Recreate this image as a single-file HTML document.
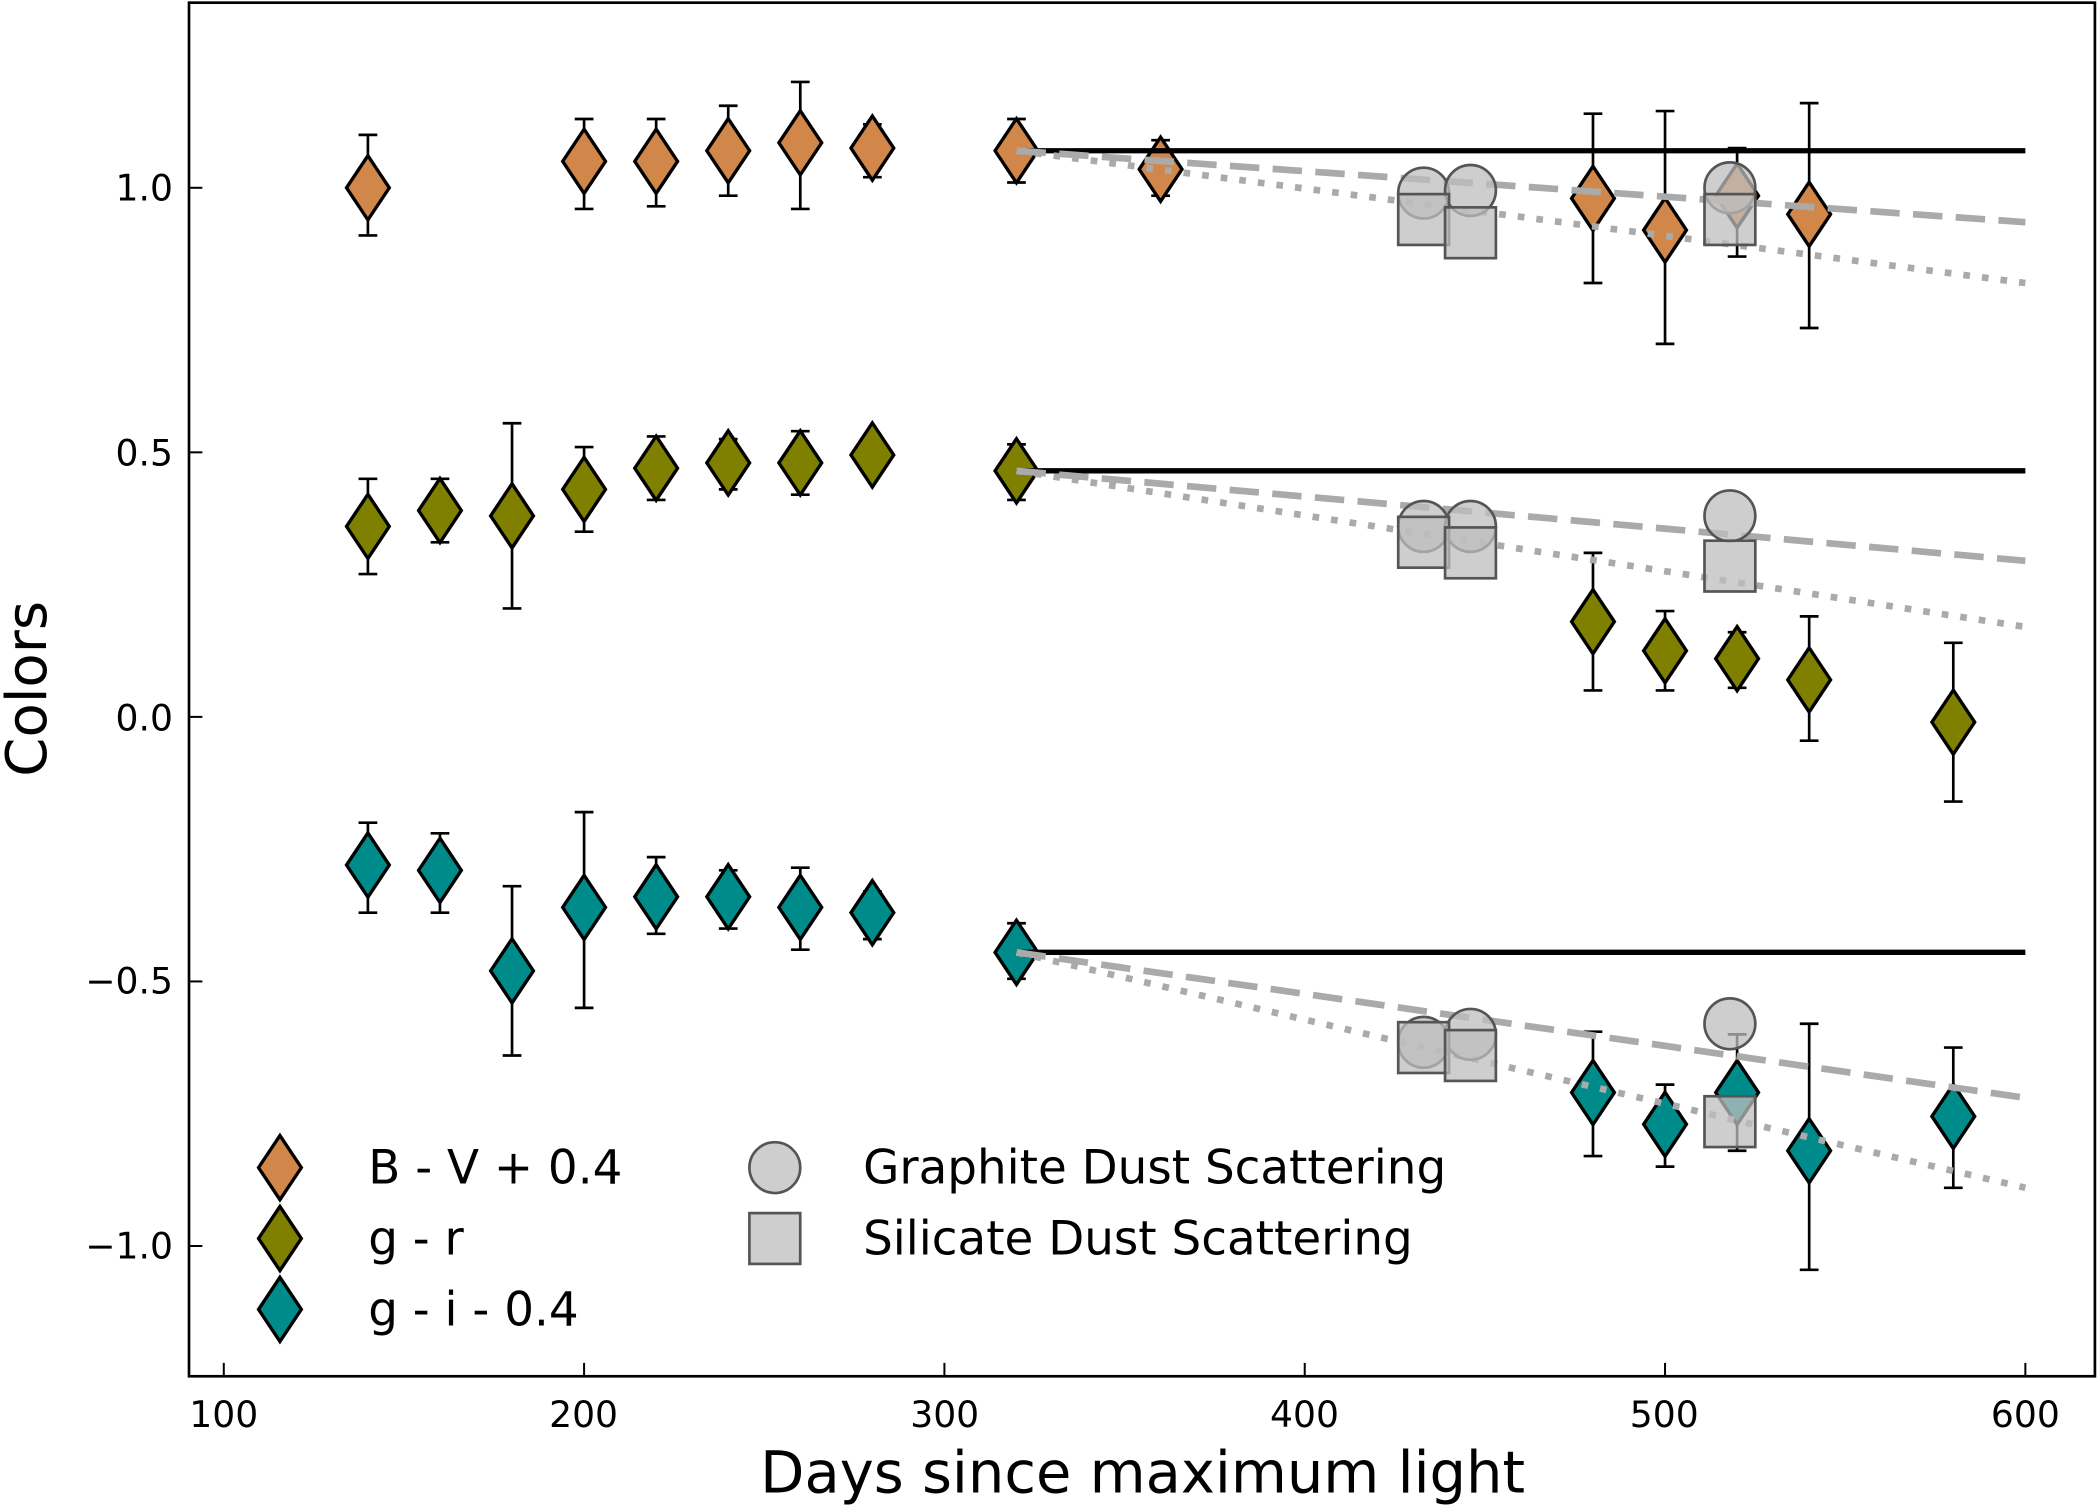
<!DOCTYPE html>
<html><head><meta charset="utf-8"><style>html,body{margin:0;padding:0;background:#fff}svg{display:block}text{font-family:"DejaVu Sans","Liberation Sans",sans-serif;fill:#000}</style></head>
<body>
<svg id="s" width="2098" height="1506" viewBox="0 0 1568 1126" xmlns="http://www.w3.org/2000/svg">
<rect x="141" y="2" width="1425" height="1027" fill="none" stroke="#000" stroke-width="2"/>
<g id="plot"></g>
<g font-size="27" text-anchor="middle">
<text x="167" y="1067">100</text><text x="436" y="1067">200</text><text x="706" y="1067">300</text><text x="975" y="1067">400</text><text x="1244" y="1067">500</text><text x="1514" y="1067">600</text>
</g>
<g font-size="27" text-anchor="end">
<text x="129" y="150">1.0</text><text x="129" y="348">0.5</text><text x="129" y="546">0.0</text><text x="129" y="743">−0.5</text><text x="129" y="941">−1.0</text>
</g>
<text x="854" y="1116" font-size="43" text-anchor="middle">Days since maximum light</text>
<text transform="translate(34,515) rotate(-90)" font-size="42" text-anchor="middle">Colors</text>
<g font-size="35">
<text x="275" y="885">B - V + 0.4</text><text x="275" y="938">g - r</text><text x="275" y="991">g - i - 0.4</text>
<text x="645" y="885">Graphite Dust Scattering</text><text x="645" y="938">Silicate Dust Scattering</text>
</g>
</svg>
<script>
var g=document.getElementById('plot'),NS='http://www.w3.org/2000/svg';
function X(d){return 167+(d-100)*2.694}function Y(v){return 536-v*395.6}
function el(t,a){var e=document.createElementNS(NS,t);for(var k in a)e.setAttribute(k,a[k]);g.appendChild(e);return e}
[100,200,300,400,500,600].forEach(function(d){el('line',{x1:X(d),x2:X(d),y1:1029,y2:1019,stroke:'#000','stroke-width':1.5})});
[1,0.5,0,-0.5,-1].forEach(function(v){el('line',{x1:141,x2:151,y1:Y(v),y2:Y(v),stroke:'#000','stroke-width':1.5})});
function D(x,y,c){el('polygon',{points:(x)+','+(y-24)+' '+(x+16)+','+y+' '+x+','+(y+24)+' '+(x-16)+','+y,fill:c,stroke:'#000','stroke-width':2.5})}
function series(data,c){data.forEach(function(p){var x=X(p[0]);
el('line',{x1:x,x2:x,y1:Y(p[2]),y2:Y(p[3]),stroke:'#000','stroke-width':2});
[p[2],p[3]].forEach(function(v){el('line',{x1:x-7,x2:x+7,y1:Y(v),y2:Y(v),stroke:'#000','stroke-width':2})});
D(x,Y(p[1]),c)})}
series([[140,1.0,1.10,0.91],[200,1.05,1.13,0.96],[220,1.05,1.13,0.965],[240,1.07,1.155,0.985],[260,1.085,1.2,0.96],[280,1.075,1.12,1.02],[320,1.07,1.13,1.01],[360,1.035,1.09,0.985],[480,0.98,1.14,0.82],[500,0.92,1.145,0.705],[520,0.985,1.075,0.87],[540,0.95,1.16,0.735]],'#d2874a');
series([[140,0.36,0.45,0.27],[160,0.39,0.45,0.33],[180,0.38,0.555,0.205],[200,0.43,0.51,0.35],[220,0.47,0.53,0.41],[240,0.48,0.525,0.43],[260,0.48,0.54,0.42],[280,0.495,0.52,0.465],[320,0.465,0.515,0.41],[480,0.18,0.31,0.05],[500,0.125,0.2,0.05],[520,0.11,0.16,0.055],[540,0.07,0.19,-0.045],[580,-0.01,0.14,-0.16]],'#7f7f00');
series([[140,-0.28,-0.2,-0.37],[160,-0.29,-0.22,-0.37],[180,-0.48,-0.32,-0.64],[200,-0.36,-0.18,-0.55],[220,-0.34,-0.265,-0.41],[240,-0.34,-0.29,-0.4],[260,-0.36,-0.285,-0.44],[280,-0.37,-0.33,-0.42],[320,-0.445,-0.39,-0.495],[480,-0.71,-0.595,-0.83],[500,-0.77,-0.695,-0.85],[520,-0.71,-0.6,-0.82],[540,-0.82,-0.58,-1.045],[580,-0.755,-0.625,-0.89]],'#008b8b');
[[1.07,0.935,0.82],[0.465,0.295,0.17],[-0.445,-0.72,-0.89]].forEach(function(r){
el('line',{x1:X(320),x2:X(600),y1:Y(r[0]),y2:Y(r[0]),stroke:'#000','stroke-width':4});
el('line',{x1:X(320),x2:X(600),y1:Y(r[0]),y2:Y(r[1]),stroke:'#aaa','stroke-width':5,'stroke-dasharray':'22,10'});
el('line',{x1:X(320),x2:X(600),y1:Y(r[0]),y2:Y(r[2]),stroke:'#aaa','stroke-width':5,'stroke-dasharray':'5,9'});
});
var circ=[[433,0.99],[446,0.995],[518,1.0],[433,0.36],[446,0.36],[518,0.38],[433,-0.615],[446,-0.6],[518,-0.58]];
var sq=[[433,0.94],[446,0.915],[518,0.94],[433,0.33],[446,0.31],[518,0.285],[433,-0.625],[446,-0.64],[518,-0.765]];
function C(x,y){el('circle',{cx:x,cy:y,r:19,fill:'rgba(190,190,190,0.75)',stroke:'#555','stroke-width':2})}
function S(x,y){el('rect',{x:x-19,y:y-19,width:38,height:38,fill:'rgba(190,190,190,0.75)',stroke:'#555','stroke-width':2})}
circ.forEach(function(p){C(X(p[0]),Y(p[1]))});sq.forEach(function(p){S(X(p[0]),Y(p[1]))});
D(209,873,'#d2874a');D(209,926,'#7f7f00');D(209,979,'#008b8b');C(579,873);S(579,926);
</script>
</body></html>
